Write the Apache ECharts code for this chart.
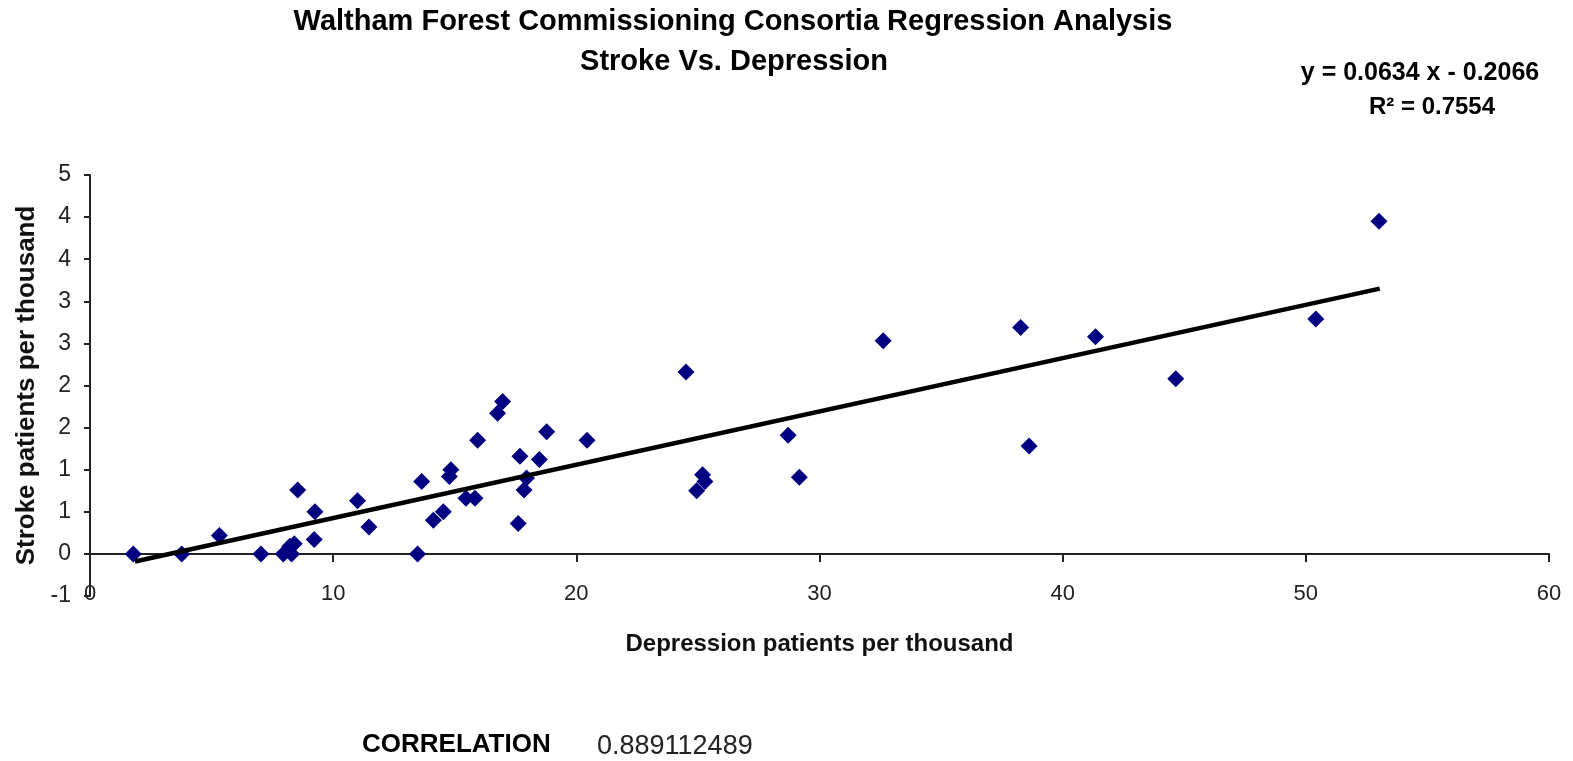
<!DOCTYPE html>
<html>
<head>
<meta charset="utf-8">
<script src="https://cdn.jsdelivr.net/npm/echarts@6/dist/echarts.min.js"></script>
<style>
html,body{margin:0;padding:0;background:#fff;}
#chart{width:1573px;height:761px;}
</style>
</head>
<body>
<div id="chart"></div>
<script>
// Depression patients per thousand (x) and Stroke patients per thousand (y)
const depression = [1.78, 3.77, 5.32, 7.03, 7.95, 8.29, 8.22, 8.40, 8.54, 9.25, 9.22, 11.00, 11.47, 13.47, 13.64, 14.12, 14.53, 14.84, 14.78, 15.46, 15.83, 15.94, 16.76, 16.97, 17.68, 17.61, 17.85, 17.95, 18.48, 18.78, 20.44, 24.51, 25.19, 25.29, 24.95, 28.71, 29.17, 32.62, 38.27, 38.62, 41.35, 44.65, 50.41, 53.01];
const stroke     = [0.00, 0.00, 0.22, 0.00, 0.00, 0.00, 0.09, 0.12, 0.76, 0.50, 0.17, 0.63, 0.32, 0.00, 0.86, 0.40, 0.50, 1.00, 0.92, 0.66, 0.66, 1.35, 1.67, 1.81, 1.16, 0.36, 0.76, 0.90, 1.12, 1.45, 1.35, 2.16, 0.94, 0.86, 0.75, 1.41, 0.91, 2.53, 2.69, 1.28, 2.58, 2.08, 2.79, 3.95];
// Linear trendline end points
const trendX = [1.85, 53.04];
const trendY = [-0.09, 3.15];
// Tick labels as shown in the reference (Excel rounded 0.5 steps)
const xTickLabels = ['0', '10', '20', '30', '40', '50', '60'];
const yTickLabels = ['-1', '0', '1', '1', '2', '2', '3', '3', '4', '4', '5'];
const titleLines = ['Waltham Forest Commissioning Consortia Regression Analysis', 'Stroke Vs. Depression'];
const equationText = ['y = 0.0634 x - 0.2066', 'R\u00B2 = 0.7554'];
const correlationLabel = 'CORRELATION';
const correlationValue = '0.889112489';

const FONT = "'Liberation Sans', Arial, sans-serif";
const points = depression.map((x, i) => [x, stroke[i]]);
const trend = trendX.map((x, i) => [x, trendY[i]]);

const chart = echarts.init(document.getElementById('chart'), null, {renderer: 'canvas'});
chart.setOption({
  animation: false,
  backgroundColor: '#ffffff',
  grid: {left: 90, right: 24, top: 175, bottom: 165, containLabel: false},
  xAxis: {
    type: 'value', min: 0, max: 60, interval: 10,
    name: 'Depression patients per thousand',
    nameLocation: 'middle', nameGap: 36,
    nameTextStyle: {fontFamily: FONT, fontWeight: 'bold', fontSize: 24, color: '#111'},
    axisLine: {show: true, onZero: true, lineStyle: {color: '#222', width: 2}},
    axisTick: {show: true, inside: false, length: 8, lineStyle: {color: '#222', width: 2}},
    axisLabel: {margin: -13, fontFamily: FONT, fontSize: 22, color: '#222',
      formatter: (v, i) => xTickLabels[i]},
    splitLine: {show: false}
  },
  yAxis: {
    type: 'value', min: -0.5, max: 4.5, interval: 0.5,
    name: 'Stroke patients per thousand',
    nameLocation: 'middle', nameGap: 46,
    nameTextStyle: {fontFamily: FONT, fontWeight: 'bold', fontSize: 26, color: '#111'},
    axisLine: {show: true, onZero: false, lineStyle: {color: '#222', width: 2}},
    axisTick: {show: true, inside: false, length: 6, lineStyle: {color: '#222', width: 2}},
    axisLabel: {margin: 19, fontFamily: FONT, fontSize: 23, color: '#222',
      formatter: (v, i) => yTickLabels[i]},
    splitLine: {show: false}
  },
  series: [
    {
      type: 'scatter', data: points, symbol: 'diamond', symbolSize: 17,
      itemStyle: {color: '#000080', opacity: 1}, z: 2
    },
    {
      type: 'line', data: trend, symbol: 'none', silent: true,
      lineStyle: {color: '#000', width: 4.5}, z: 3
    }
  ],
  graphic: [
    {type: 'text', x: 733, y: 22, style: {text: titleLines[0], textAlign: 'center', textVerticalAlign: 'middle', font: "bold 29px " + FONT, fill: '#000'}},
    {type: 'text', x: 734, y: 62, style: {text: titleLines[1], textAlign: 'center', textVerticalAlign: 'middle', font: "bold 29px " + FONT, fill: '#000'}},
    {type: 'text', x: 1420, y: 73, style: {text: equationText[0], textAlign: 'center', textVerticalAlign: 'middle', font: "bold 25px " + FONT, fill: '#000'}},
    {type: 'text', x: 1432, y: 107, style: {text: equationText[1], textAlign: 'center', textVerticalAlign: 'middle', font: "bold 24px " + FONT, fill: '#000'}},
    {type: 'text', x: 362, y: 745, style: {text: correlationLabel, textAlign: 'left', textVerticalAlign: 'middle', font: "bold 26px " + FONT, fill: '#000'}},
    {type: 'text', x: 597, y: 747, style: {text: correlationValue, textAlign: 'left', textVerticalAlign: 'middle', font: "27px " + FONT, fill: '#222'}}
  ]
});
</script>
</body>
</html>
